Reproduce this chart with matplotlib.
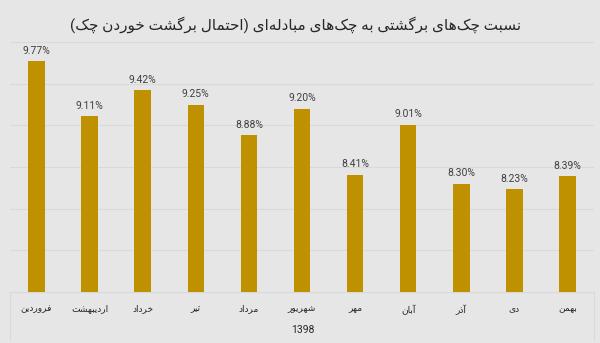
import matplotlib
matplotlib.use("Agg")
import matplotlib.pyplot as plt
from matplotlib.lines import Line2D
import numpy as np

# monthly ratio of bounced cheques to exchanged cheques (%), year 1398
months = ['فروردین', 'اردیبهشت', 'خرداد', 'تیر', 'مرداد', 'شهریور',
          'مهر', 'آبان', 'آذر', 'دی', 'بهمن']
ratio = [9.77, 9.11, 9.42, 9.25, 8.88, 9.20, 8.41, 9.01, 8.30, 8.23, 8.39]
year = '1398'
title = 'نسبت چک\u200cهای برگشتی به چک\u200cهای مبادله\u200cای (احتمال برگشت خوردن چک)'

# presentation forms: isolated, final, initial, medial (None = right-joining only)
FORMS = {
    '\u0627': ('\uFE8D', '\uFE8E', None, None),
    '\u0622': ('\uFE81', '\uFE82', None, None),
    '\u0628': ('\uFE8F', '\uFE90', '\uFE91', '\uFE92'),
    '\u062A': ('\uFE95', '\uFE96', '\uFE97', '\uFE98'),
    '\u062D': ('\uFEA1', '\uFEA2', '\uFEA3', '\uFEA4'),
    '\u062E': ('\uFEA5', '\uFEA6', '\uFEA7', '\uFEA8'),
    '\u062F': ('\uFEA9', '\uFEAA', None, None),
    '\u0630': ('\uFEAB', '\uFEAC', None, None),
    '\u0631': ('\uFEAD', '\uFEAE', None, None),
    '\u0633': ('\uFEB1', '\uFEB2', '\uFEB3', '\uFEB4'),
    '\u0634': ('\uFEB5', '\uFEB6', '\uFEB7', '\uFEB8'),
    '\u0641': ('\uFED1', '\uFED2', '\uFED3', '\uFED4'),
    '\u0644': ('\uFEDD', '\uFEDE', '\uFEDF', '\uFEE0'),
    '\u0645': ('\uFEE1', '\uFEE2', '\uFEE3', '\uFEE4'),
    '\u0646': ('\uFEE5', '\uFEE6', '\uFEE7', '\uFEE8'),
    '\u0647': ('\uFEE9', '\uFEEA', '\uFEEB', '\uFEEC'),
    '\u0648': ('\uFEED', '\uFEEE', None, None),
    '\u06CC': ('\uFBFC', '\uFBFD', '\uFBFE', '\uFBFF'),
    '\u06A9': ('\uFB8E', '\uFB8F', '\uFB90', '\uFB91'),
    '\u06AF': ('\uFB92', '\uFB93', '\uFB94', '\uFB95'),
    '\u0686': ('\uFB7A', '\uFB7B', '\uFB7C', '\uFB7D'),
}


def rtl(text):
    text = text.replace('\u064A', '\u06CC').replace('\u0643', '\u06A9')
    out = []
    for i, c in enumerate(text):
        f = FORMS.get(c)
        if f is None:
            out.append(c)
            continue
        prev = text[i - 1] if i > 0 else ''
        nxt = text[i + 1] if i < len(text) - 1 else ''
        jp = prev in FORMS and FORMS[prev][2] is not None
        jn = f[2] is not None and nxt in FORMS
        if jp and jn:
            out.append(f[3])
        elif jp:
            out.append(f[1])
        elif jn:
            out.append(f[2])
        else:
            out.append(f[0])
    s = ''.join(out).replace('\u200c', '')[::-1]
    return s.translate(str.maketrans('()', ')('))


plt.rcParams['font.family'] = ['Roboto', 'DejaVu Sans']
bg = '#e7e6e6'
gold = '#bf9000'
grid = '#d9d9d9'
txt = '#404040'
dark = '#262626'

fig = plt.figure(figsize=(6, 3.43), dpi=100, facecolor=bg)
ax = fig.add_axes([10 / 600, 51 / 343, 584 / 600, 250 / 343], facecolor=bg)

x = np.arange(len(months))
bars = ax.bar(x, ratio, width=0.31, color=gold, zorder=3)
for b, v in zip(bars, ratio):
    ax.annotate(f'{v:.2f}%', (b.get_x() + b.get_width() / 2, v),
                xytext=(0, 4), textcoords='offset points',
                ha='center', va='bottom', fontsize=7.5, color=txt)

ax.set_ylim(7, 10)
ax.set_xlim(-0.5, len(months) - 0.5)
ax.set_yticks(np.arange(7.5, 10.01, 0.5))
ax.yaxis.grid(True, color=grid, lw=0.8, zorder=0)
ax.tick_params(axis='y', left=False, labelleft=False)
ax.set_xticks(x)
ax.set_xticklabels([rtl(m) for m in months], fontsize=6.5, color=dark)
ax.tick_params(axis='x', length=0, pad=9)
for s in ['top', 'left', 'right']:
    ax.spines[s].set_visible(False)
ax.spines['bottom'].set_color(grid)
ax.spines['bottom'].set_linewidth(0.8)

# category box borders below the axis
for xf in (10 / 600, 594 / 600):
    fig.add_artist(Line2D([xf, xf], [51 / 343, 3 / 343], color=grid, lw=0.8))

fig.text(303 / 600, 1 - 330 / 343, year, ha='center', va='center',
         fontsize=7.5, color=dark)
fig.text(296 / 600, 1 - 25 / 343, rtl(title), ha='center', va='center',
         fontsize=11, color=dark)

fig.savefig('out.png', dpi=100, facecolor=bg)
